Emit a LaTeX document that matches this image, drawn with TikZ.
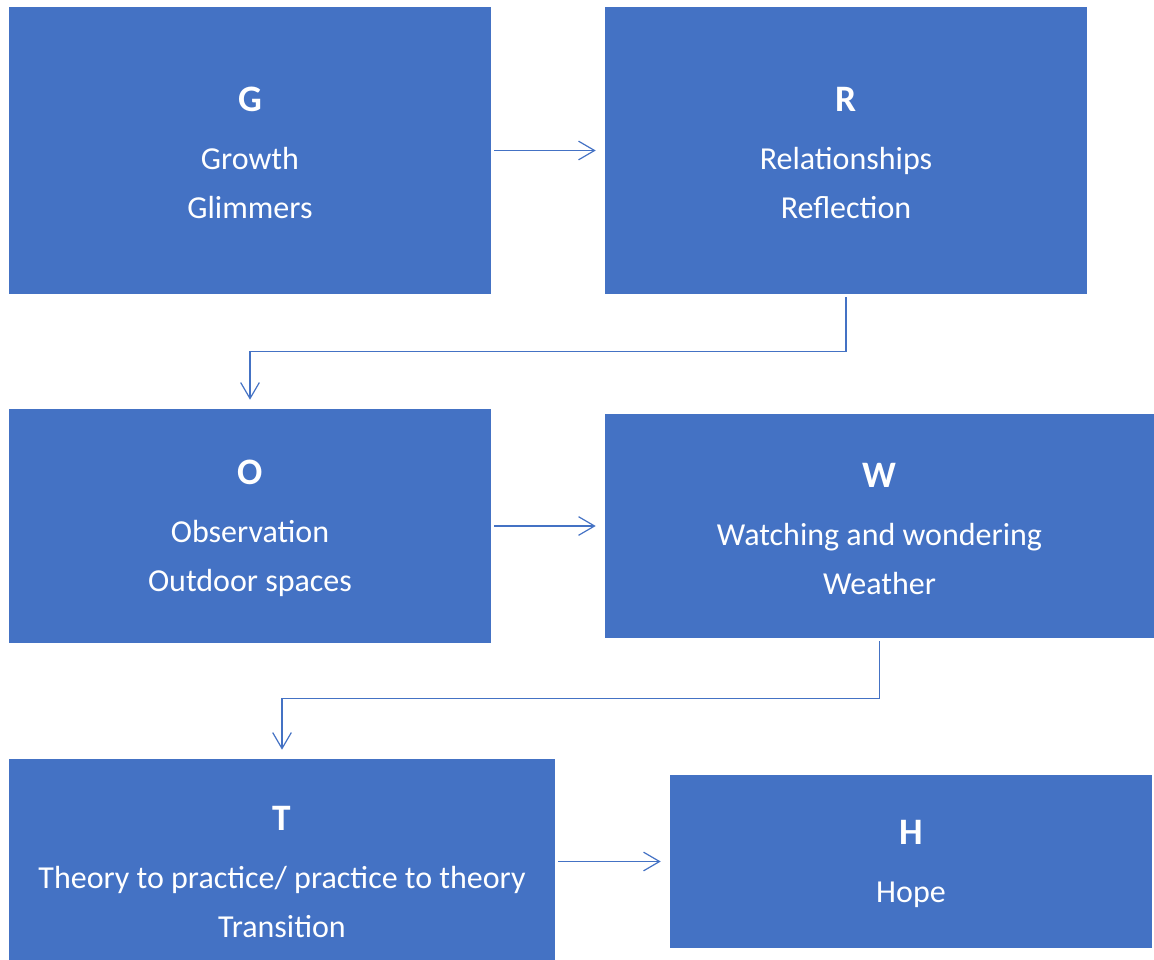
\documentclass[tikz,border=0pt]{standalone}
\usepackage{fontspec}
\setmainfont{Carlito}
\usetikzlibrary{arrows.meta}
\definecolor{boxblue}{RGB}{68,114,196}

\begin{document}
\begin{tikzpicture}[x=0.75pt, y=-0.75pt,
    letterbox/.style={fill=boxblue, text=white, inner sep=0pt, align=center,
      font=\fontsize{24}{36.75}\selectfont},
    flow/.style={draw=boxblue, line width=0.9pt,
      -{Straight Barb[length=12pt, width=14pt]},
      shorten <=2.25pt, shorten >=6.75pt}]
  \newcommand{\initial}[1]{{\bfseries\fontsize{28}{30}\selectfont\rule{0pt}{22.5pt}#1}\\[6.75pt]}
  \useasboundingbox (0,0) rectangle (1154,960);
  % boxes
  \node[letterbox, minimum width=361.5pt, minimum height=215.25pt] (G) at (250,150.5)
    {\initial{G}Growth\\Glimmers};
  \node[letterbox, minimum width=361.5pt, minimum height=215.25pt] (R) at (846,150.5)
    {\initial{R}Relationships\\Reflection};
  \node[letterbox, minimum width=361.5pt, minimum height=175.5pt] (O) at (250,526)
    {\initial{O}Observation\\Outdoor spaces};
  \node[letterbox, minimum width=411.75pt, minimum height=168pt] (W) at (879.5,526)
    {\initial{W}Watching and wondering\\Weather};
  \node[letterbox, minimum width=409.5pt, minimum height=165.75pt] (T) at (282,869.5)
    {\initial{T}Theory to practice/ practice to theory\\Transition};
  \node[letterbox, minimum width=361.5pt, minimum height=129.75pt] (H) at (911,861.5)
    {\initial{H}Hope};
  % arrows
  \path (R.south) -- (O.north) coordinate[midway] (ro);
  \path (W.south) -- (T.north) coordinate[midway] (wt);
  \draw[flow] (G.east) -- (R.west);
  \draw[flow] (R.south) -- (R.south |- ro) -| (O.north);
  \draw[flow] (O.east) -- (W.west);
  \draw[flow] (W.south) -- (W.south |- wt) -| (T.north);
  \draw[flow] (T.east |- H.west) -- (H.west);
\end{tikzpicture}
\end{document}
